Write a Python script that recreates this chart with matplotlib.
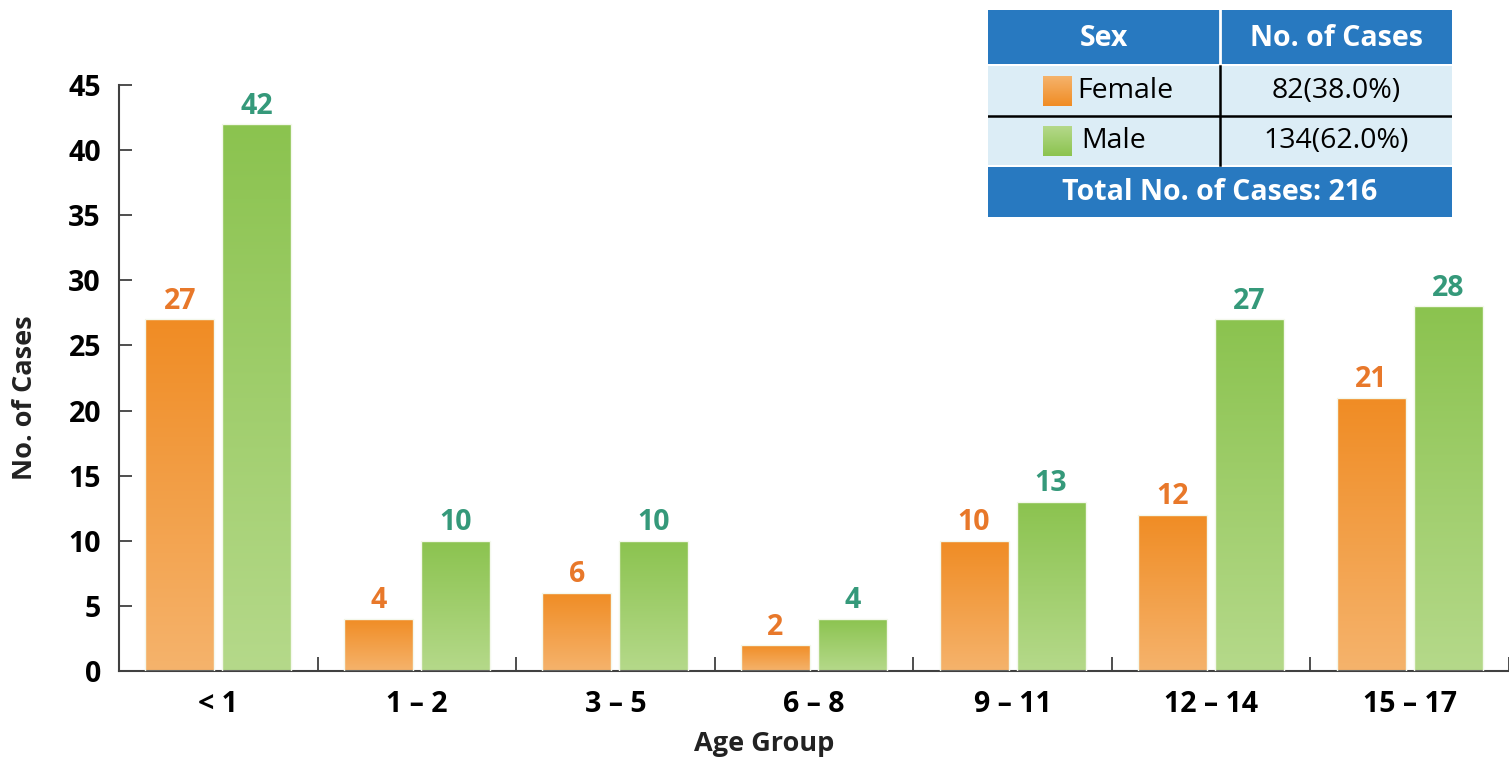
import numpy as np
import matplotlib
matplotlib.use("Agg")
import matplotlib.pyplot as plt
from matplotlib.colors import LinearSegmentedColormap
from matplotlib.patches import Rectangle

# ---------------- data ----------------
age_groups = ["< 1", "1 – 2", "3 – 5", "6 – 8", "9 – 11", "12 – 14", "15 – 17"]
female = [27, 4, 6, 2, 10, 12, 21]
male = [42, 10, 10, 4, 13, 27, 28]
y_ticks = [0, 5, 10, 15, 20, 25, 30, 35, 40, 45]
table_header = ["Sex", "No. of Cases"]
table_sex = ["Female", "Male"]
table_cases = ["82(38.0%)", "134(62.0%)"]
table_total = "Total No. of Cases: 216"

FONT = ["Open Sans", "DejaVu Sans"]
plt.rcParams["font.family"] = FONT

W, H = 1509, 758
fig = plt.figure(figsize=(W / 100, H / 100), dpi=100)

def px_axes(x0, y0, x1, y1):
    return fig.add_axes([x0 / W, 1 - y1 / H, (x1 - x0) / W, (y1 - y0) / H])

ax = px_axes(119, 85, 1509, 671)

orange_cmap = LinearSegmentedColormap.from_list("o", ["#F5B36C", "#F08C24"])
green_cmap = LinearSegmentedColormap.from_list("g", ["#B5D98A", "#8BC34F"])
grad = np.linspace(0, 1, 256).reshape(-1, 1)

n = len(age_groups)
x = np.arange(n)
bw = 0.347
off = 0.194

def grad_bar(xc, h, cmap):
    rect = Rectangle((xc - bw / 2, 0), bw, h, facecolor="none",
                     edgecolor="#F4F8EC", linewidth=1.0, zorder=3)
    ax.add_patch(rect)
    im = ax.imshow(grad, cmap=cmap, aspect="auto", origin="lower",
                   extent=[xc - bw / 2, xc + bw / 2, 0, h], zorder=2,
                   interpolation="bicubic")
    im.set_clip_path(rect)

LBL = 20.5
for i in range(n):
    grad_bar(x[i] - off, female[i], orange_cmap)
    grad_bar(x[i] + off, male[i], green_cmap)
    ax.text(x[i] - off, female[i] + 0.8, str(female[i]), ha="center", va="baseline",
            fontsize=LBL, fontweight="bold", color="#E8782A")
    ax.text(x[i] + off, male[i] + 0.8, str(male[i]), ha="center", va="baseline",
            fontsize=LBL, fontweight="bold", color="#35997A")

ax.set_xlim(-0.5, n - 0.5)
ax.set_ylim(0, 45)
for s in ["top", "right"]:
    ax.spines[s].set_visible(False)
for s in ["left", "bottom"]:
    ax.spines[s].set_color("#404040")
    ax.spines[s].set_linewidth(1.5)

ax.set_yticks(y_ticks)
ax.set_yticklabels([str(v) for v in y_ticks])
ax.tick_params(axis="y", direction="in", length=9, width=1.3, color="#404040",
               labelsize=LBL, pad=13)
for lab in ax.get_yticklabels():
    lab.set_fontweight("bold")

ax.set_xticks(np.arange(n + 1) - 0.5)
ax.set_xticklabels([""] * (n + 1))
ax.tick_params(axis="x", which="major", direction="in", length=10, width=1.3,
               color="#404040")
ax.set_xticks(x, minor=True)
ax.set_xticklabels(age_groups, minor=True)
ax.tick_params(axis="x", which="minor", length=0, labelsize=LBL, pad=14)
for lab in ax.get_xticklabels(minor=True):
    lab.set_fontweight("bold")

fig.text(25 / W, 1 - 398 / H, "No. of Cases", rotation=90, ha="center", va="center",
         fontsize=19.5, fontweight="bold", color="#222222")
fig.text(764 / W, 1 - 744 / H, "Age Group", ha="center", va="center",
         fontsize=19.5, fontweight="bold", color="#222222")

# ---------------- table ----------------
tx0, ty0, tx1, ty1 = 988, 10, 1452, 217
tab = px_axes(tx0, ty0, tx1, ty1)
tab.axis("off")

blue = "#2879C0"
light = "#DCEDF6"
split = 1220
tab.add_patch(Rectangle((tx0, 10), tx1 - tx0, 54, facecolor=blue, edgecolor="none"))
tab.add_patch(Rectangle((tx0, 66), tx1 - tx0, 99, facecolor=light, edgecolor="none"))
tab.add_patch(Rectangle((tx0, 167), tx1 - tx0, 50, facecolor=blue, edgecolor="none"))
tab.plot([split, split], [10, 64], color="white", lw=2)
tab.plot([split, split], [66, 165], color="black", lw=1.8)
tab.plot([tx0, tx1], [116, 116], color="black", lw=1.8)

TF = 20.5
tab.text((tx0 + split) / 2, 38, table_header[0], ha="center", va="center",
         fontsize=TF, fontweight="bold", color="white")
tab.text((split + tx1) / 2, 38, table_header[1], ha="center", va="center",
         fontsize=TF, fontweight="bold", color="white")

rows_y = [91, 141]
for k, (cm, lbl, val) in enumerate(zip([orange_cmap, green_cmap], table_sex, table_cases)):
    yc = rows_y[k]
    tab.imshow(grad, cmap=cm, aspect="auto", origin="upper",
               extent=[1043, 1072, yc + 15, yc - 15], zorder=2)
    tab.text(1077 if k == 0 else 1081, yc, lbl, ha="left", va="center",
             fontsize=TF, color="black")
    tab.text(1336, yc, val, ha="center", va="center", fontsize=TF, color="black")

tab.text((tx0 + tx1) / 2, 192, table_total, ha="center", va="center",
         fontsize=TF, fontweight="bold", color="white")
tab.set_xlim(tx0, tx1)
tab.set_ylim(ty1, ty0)

fig.savefig("out.png", dpi=100)
